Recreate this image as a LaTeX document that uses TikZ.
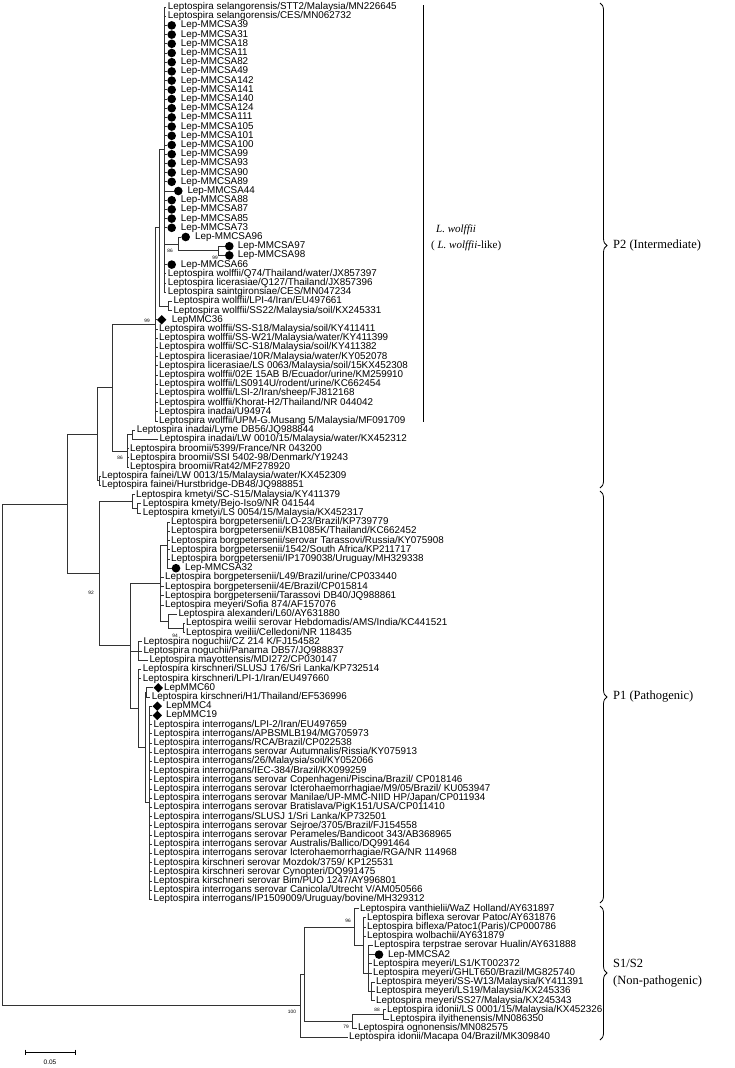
\documentclass[tikz,border=0pt]{standalone}
\usepackage{fontspec}
\setmainfont{Liberation Serif}
\newfontfamily\arialf{Liberation Sans}
\usetikzlibrary{shapes.geometric,decorations.pathreplacing}
\begin{document}
\begin{tikzpicture}[x=1pt,y=-1pt,
  leaf/.style={anchor=west,inner xsep=1.5pt,inner ysep=0pt,font=\arialf\fontsize{9.85}{10}\selectfont},
  br/.style={draw=black!80,line width=0.7pt},
  dot/.style={circle,fill=black,minimum size=8.6pt,inner sep=0pt},
  dia/.style={diamond,fill=black,minimum size=9.5pt,inner sep=0pt},
  bs/.style={font=\arialf\fontsize{4.8}{5}\selectfont,inner sep=0pt},
  grp/.style={font=\fontsize{12.5}{14}\selectfont,anchor=west,inner sep=0pt},
  brc/.style={draw=black,line width=0.8pt,decorate,decoration={brace,amplitude=7pt}}]
\useasboundingbox (0,0) rectangle (734,1068);
% ---------- P2 leaves ----------
\node[leaf] (l1) at (166.2,7.0) {Leptospira selangorensis/STT2/Malaysia/MN226645};
\node[leaf] (l2) at (166.2,16.2) {Leptospira selangorensis/CES/MN062732};
\foreach \i/\y/\t in {3/25.4/39,4/34.6/31,5/43.8/18,6/53.0/11,7/62.2/82,8/71.4/49,9/80.6/142,10/89.8/141,11/99.0/140,12/108.2/124,13/117.4/111,14/126.6/105,15/135.8/101,16/145.0/100,17/154.2/99,18/163.4/93,19/172.6/90,20/181.8/89,22/200.2/88,23/209.4/87,24/218.6/85,25/227.8/73,29/264.6/66}{
  \node[dot] (m\i) at (171.7,\y) {};
  \node[leaf] (l\i) at (179.2,\y) {Lep-MMCSA\t};
}
\node[dot] (m21) at (178.3,191.0) {};
\node[leaf] (l21) at (185.8,191.0) {Lep-MMCSA44};
\node[dot] (m26) at (185.7,237.0) {};
\node[leaf] (l26) at (193.5,237.0) {Lep-MMCSA96};
\node[dot] (m27) at (229.3,246.2) {};
\node[leaf] (l27) at (236.2,246.2) {Lep-MMCSA97};
\node[dot] (m28) at (229.3,255.4) {};
\node[leaf] (l28) at (236.2,255.4) {Lep-MMCSA98};
\node[leaf] (l30) at (166.2,273.8) {Leptospira wolffii/Q74/Thailand/water/JX857397};
\node[leaf] (l31) at (166.2,283.0) {Leptospira licerasiae/Q127/Thailand/JX857396};
\node[leaf] (l32) at (166.2,292.2) {Leptospira saintgironsiae/CES/MN047234};
\node[leaf] (l33) at (171.8,301.4) {Leptospira wolffii/LPI-4/Iran/EU497661};
\node[leaf] (l34) at (171.8,310.6) {Leptospira wolffii/SS22/Malaysia/soil/KX245331};
\node[dia] (m35) at (161.7,319.8) {};
\node[leaf] (l35) at (170.2,319.8) {LepMMC36};
\node[leaf] (l36) at (157.5,329.0) {Leptospira wolffii/SS-S18/Malaysia/soil/KY411411};
\node[leaf] (l37) at (157.5,338.2) {Leptospira wolffii/SS-W21/Malaysia/water/KY411399};
\node[leaf] (l38) at (157.5,347.4) {Leptospira wolffii/SC-S18/Malaysia/soil/KY411382};
\node[leaf] (l39) at (157.5,356.6) {Leptospira licerasiae/10R/Malaysia/water/KY052078};
\node[leaf] (l40) at (157.5,365.8) {Leptospira licerasiae/LS 0063/Malaysia/soil/15KX452308};
\node[leaf] (l41) at (157.5,375.0) {Leptospira wolffii/02E 15AB B/Ecuador/urine/KM259910};
\node[leaf] (l42) at (157.5,384.2) {Leptospira wolffii/LS0914U/rodent/urine/KC662454};
\node[leaf] (l43) at (157.5,393.4) {Leptospira wolffii/LSI-2/Iran/sheep/FJ812168};
\node[leaf] (l44) at (157.5,402.6) {Leptospira wolffii/Khorat-H2/Thailand/NR 044042};
\node[leaf] (l45) at (157.5,411.8) {Leptospira inadai/U94974};
\node[leaf] (l46) at (157.5,421.0) {Leptospira wolffii/UPM-G.Musang 5/Malaysia/MF091709};
\node[leaf] (l47) at (135.2,430.2) {Leptospira inadai/Lyme DB56/JQ988844};
\node[leaf] (l48) at (157.8,439.4) {Leptospira inadai/LW 0010/15/Malaysia/water/KX452312};
\node[leaf] (l49) at (128.5,448.6) {Leptospira broomii/5399/France/NR 043200};
\node[leaf] (l50) at (128.5,457.8) {Leptospira broomii/SSI 5402-98/Denmark/Y19243};
\node[leaf] (l51) at (128.5,467.0) {Leptospira broomii/Rat42/MF278920};
\node[leaf] (l52) at (100.2,476.2) {Leptospira fainei/LW 0013/15/Malaysia/water/KX452309};
\node[leaf] (l53) at (100.2,485.4) {Leptospira fainei/Hurstbridge-DB48/JQ988851};
% ---------- P1 leaves ----------
\node[leaf] (l54) at (134.5,494.6) {Leptospira kmetyi/SC-S15/Malaysia/KY411379};
\node[leaf] (l55) at (141.2,503.8) {Leptospira kmety/Bejo-Iso9/NR 041544};
\node[leaf] (l56) at (141.2,513.0) {Leptospira kmetyi/LS 0054/15/Malaysia/KX452317};
\node[leaf] (l57) at (169.5,522.2) {Leptospira borgpetersenii/LO-23/Brazil/KP739779};
\node[leaf] (l58) at (169.5,531.4) {Leptospira borgpetersenii/KB1085K/Thailand/KC662452};
\node[leaf] (l59) at (169.5,540.6) {Leptospira borgpetersenii/serovar Tarassovi/Russia/KY075908};
\node[leaf] (l60) at (169.5,549.8) {Leptospira borgpetersenii/1542/South Africa/KP211717};
\node[leaf] (l61) at (169.5,559.0) {Leptospira borgpetersenii/IP1709038/Uruguay/MH329338};
\node[dot] (m62) at (176.0,568.2) {};
\node[leaf] (l62) at (183.5,568.2) {Lep-MMCSA32};
\node[leaf] (l63) at (163.5,577.4) {Leptospira borgpetersenii/L49/Brazil/urine/CP033440};
\node[leaf] (l64) at (163.5,586.6) {Leptospira borgpetersenii/4E/Brazil/CP015814};
\node[leaf] (l65) at (163.5,595.8) {Leptospira borgpetersenii/Tarassovi DB40/JQ988861};
\node[leaf] (l66) at (163.5,605.0) {Leptospira meyeri/Sofia 874/AF157076};
\node[leaf] (l67) at (176.8,614.2) {Leptospira alexanderi/L60/AY631880};
\node[leaf] (l68) at (184.5,623.4) {Leptospira weilii serovar Hebdomadis/AMS/India/KC441521};
\node[leaf] (l69) at (184.5,632.6) {Leptospira weilii/Celledoni/NR 118435};
\node[leaf] (l70) at (141.8,641.8) {Leptospira noguchii/CZ 214 K/FJ154582};
\node[leaf] (l71) at (141.8,651.0) {Leptospira noguchii/Panama DB57/JQ988837};
\node[leaf] (l72) at (147.8,660.2) {Leptospira mayottensis/MDI272/CP030147};
\node[leaf] (l73) at (141.2,669.4) {Leptospira kirschneri/SLUSJ 176/Sri Lanka/KP732514};
\node[leaf] (l74) at (141.2,678.6) {Leptospira kirschneri/LPI-1/Iran/EU497660};
\node[dia] (m75) at (158.3,687.8) {};
\node[leaf] (l75) at (162.5,687.8) {LepMMC60};
\node[leaf] (l76) at (150.2,697.0) {Leptospira kirschneri/H1/Thailand/EF536996};
\node[dia] (m77) at (157.3,706.2) {};
\node[leaf] (l77) at (164.5,706.2) {LepMMC4};
\node[dia] (m78) at (157.3,715.4) {};
\node[leaf] (l78) at (164.5,715.4) {LepMMC19};
\node[leaf] (l79) at (152.0,724.6) {Leptospira interrogans/LPI-2/Iran/EU497659};
\node[leaf] (l80) at (152.0,733.8) {Leptospira interrogans/APBSMLB194/MG705973};
\node[leaf] (l81) at (152.0,743.0) {Leptospira interrogans/RCA/Brazil/CP022538};
\node[leaf] (l82) at (152.0,752.2) {Leptospira interrogans serovar Autumnalis/Rissia/KY075913};
\node[leaf] (l83) at (152.0,761.4) {Leptospira interrogans/26/Malaysia/soil/KY052066};
\node[leaf] (l84) at (152.0,770.6) {Leptospira interrogans/IEC-384/Brazil/KX099259};
\node[leaf] (l85) at (152.0,779.8) {Leptospira interrogans serovar Copenhageni/Piscina/Brazil/ CP018146};
\node[leaf] (l86) at (152.0,789.0) {Leptospira interrogans serovar Icterohaemorrhagiae/M9/05/Brazil/ KU053947};
\node[leaf] (l87) at (152.0,798.2) {Leptospira interrogans serovar Manilae/UP-MMC-NIID HP/Japan/CP011934};
\node[leaf] (l88) at (152.0,807.4) {Leptospira interrogans serovar Bratislava/PigK151/USA/CP011410};
\node[leaf] (l89) at (152.0,816.6) {Leptospira interrogans/SLUSJ 1/Sri Lanka/KP732501};
\node[leaf] (l90) at (152.0,825.8) {Leptospira interrogans serovar Sejroe/3705/Brazil/FJ154558};
\node[leaf] (l91) at (152.0,835.0) {Leptospira interrogans serovar Perameles/Bandicoot 343/AB368965};
\node[leaf] (l92) at (152.0,844.2) {Leptospira interrogans serovar Australis/Ballico/DQ991464};
\node[leaf] (l93) at (152.0,853.4) {Leptospira interrogans serovar Icterohaemorrhagiae/RGA/NR 114968};
\node[leaf] (l94) at (152.0,862.6) {Leptospira kirschneri serovar Mozdok/3759/ KP125531};
\node[leaf] (l95) at (152.0,871.8) {Leptospira kirschneri serovar Cynopteri/DQ991475};
\node[leaf] (l96) at (152.0,881.0) {Leptospira kirschneri serovar Bim/PUO 1247/AY996801};
\node[leaf] (l97) at (152.0,890.2) {Leptospira interrogans serovar Canicola/Utrecht V/AM050566};
\node[leaf] (l98) at (152.0,899.4) {Leptospira interrogans/IP1509009/Uruguay/bovine/MH329312};
% ---------- S1/S2 leaves ----------
\node[leaf] (l99) at (358.5,908.6) {Leptospira vanthielii/WaZ Holland/AY631897};
\node[leaf] (l100) at (365.5,917.8) {Leptospira biflexa serovar Patoc/AY631876};
\node[leaf] (l101) at (365.5,927.0) {Leptospira biflexa/Patoc1(Paris)/CP000786};
\node[leaf] (l102) at (365.5,936.2) {Leptospira wolbachii/AY631879};
\node[leaf] (l103) at (372.5,945.4) {Leptospira terpstrae serovar Hualin/AY631888};
\node[dot] (m104) at (379,954.6) {};
\node[leaf] (l104) at (386.5,954.6) {Lep-MMCSA2};
\node[leaf] (l105) at (371.5,963.8) {Leptospira meyeri/LS1/KT002372};
\node[leaf] (l106) at (371.5,973.0) {Leptospira meyeri/GHLT650/Brazil/MG825740};
\node[leaf] (l107) at (374.5,982.2) {Leptospira meyeri/SS-W13/Malaysia/KY411391};
\node[leaf] (l108) at (374.5,991.4) {Leptospira meyeri/LS19/Malaysia/KX245336};
\node[leaf] (l109) at (374.5,1000.6) {Leptospira meyeri/SS27/Malaysia/KX245343};
\node[leaf] (l110) at (385.5,1009.8) {Leptospira idonii/LS 0001/15/Malaysia/KX452326};
\node[leaf] (l111) at (388.5,1019.0) {Leptospira ilyithenensis/MN086350};
\node[leaf] (l112) at (356.5,1028.2) {Leptospira ognonensis/MN082575};
\node[leaf] (l113) at (347.5,1037.4) {Leptospira idonii/Macapa 04/Brazil/MK309840};
% ---------- internal nodes ----------
\coordinate (A) at (164,149.6);
\coordinate (N97) at (218.3,250.8);
\coordinate (N96) at (178,243.9);
\coordinate (N34) at (168.5,306.0);
\coordinate (B) at (159,227.8);
\coordinate (D) at (155,324.4);
\coordinate (G) at (132,434.8);
\coordinate (F) at (127,450.9);
\coordinate (E) at (112,387.7);
\coordinate (Fa) at (99.5,480.8);
\coordinate (P2n) at (97.5,434.2);
\coordinate (Kp) at (137,508.4);
\coordinate (K) at (132,501.5);
\coordinate (LO) at (167,545.2);
\coordinate (WE) at (183,628.0);
\coordinate (AW) at (168,621.1);
\coordinate (BG) at (160,583.2);
\coordinate (NG) at (138,651.0);
\coordinate (MH) at (146,692.4);
\coordinate (I) at (149.3,802.8);
\coordinate (KI) at (145,747.6);
\coordinate (KK) at (138,708.5);
\coordinate (R) at (130,645.8);
\coordinate (P1n) at (99,573.7);
\coordinate (PP) at (67,504.0);
\coordinate (MS) at (371,991.4);
\coordinate (MY) at (368,973.0);
\coordinate (BF) at (363,945.4);
\coordinate (V) at (354,927.0);
\coordinate (IP) at (383,1014.4);
\coordinate (IDg) at (352,1021.3);
\coordinate (SA) at (304,974.2);
\coordinate (S) at (300,1005.8);
\coordinate (RT) at (2,754.9);
% ---------- branches ----------
\foreach \c in {l1,l2,m3,m4,m5,m6,m7,m8,m9,m10,m11,m12,m13,m14,m15,m16,m17,m18,m19,m20,m21,m22,m23,m24,m25,m29,l30,l31,l32}{\draw[br] (A) |- (\c.west);}
\draw[br] (A) |- (N96);
\draw[br] (N96) |- (m26.west); \draw[br] (N96) |- (N97);
\draw[br] (N97) |- (m27.west); \draw[br] (N97) |- (m28.west);
\draw[br] (N34) |- (l33.west); \draw[br] (N34) |- (l34.west);
\draw[br] (B) |- (A); \draw[br] (B) |- (N34);
\draw[br] (D) |- (B);
\foreach \c in {m35,l36,l37,l38,l39,l40,l41,l42,l43,l44,l45,l46}{\draw[br] (D) |- (\c.west);}
\draw[br] (G) |- (l47.west); \draw[br] (G) |- (l48.west);
\draw[br] (F) |- (G);
\foreach \c in {l49,l50,l51}{\draw[br] (F) |- (\c.west);}
\draw[br] (E) |- (D); \draw[br] (E) |- (F);
\draw[br] (Fa) |- (l52.west); \draw[br] (Fa) |- (l53.west);
\draw[br] (P2n) |- (E); \draw[br] (P2n) |- (Fa);
\draw[br] (Kp) |- (l55.west); \draw[br] (Kp) |- (l56.west);
\draw[br] (K) |- (l54.west); \draw[br] (K) |- (Kp);
\foreach \c in {l57,l58,l59,l60,l61,m62}{\draw[br] (LO) |- (\c.west);}
\draw[br] (WE) |- (l68.west); \draw[br] (WE) |- (l69.west);
\draw[br] (AW) |- (l67.west); \draw[br] (AW) |- (WE);
\draw[br] (BG) |- (LO); \draw[br] (BG) |- (AW);
\foreach \c in {l63,l64,l65,l66}{\draw[br] (BG) |- (\c.west);}
\foreach \c in {l70,l71,l72}{\draw[br] (NG) |- (\c.west);}
\draw[br] (MH) |- (m75.west); \draw[br] (MH) |- (l76.west);
\foreach \c in {m77,m78,l79,l80,l81,l82,l83,l84,l85,l86,l87,l88,l89,l90,l91,l92,l93,l94,l95,l96,l97,l98}{\draw[br] (I) |- (\c.west);}
\draw[br] (KI) |- (MH); \draw[br] (KI) |- (I);
\draw[br] (KK) |- (l73.west); \draw[br] (KK) |- (l74.west); \draw[br] (KK) |- (KI);
\draw[br] (R) |- (BG); \draw[br] (R) |- (NG); \draw[br] (R) |- (KK);
\draw[br] (P1n) |- (K); \draw[br] (P1n) |- (R);
\draw[br] (PP) |- (P2n); \draw[br] (PP) |- (P1n);
\foreach \c in {l107,l108,l109}{\draw[br] (MS) |- (\c.west);}
\foreach \c in {l103,m104,l105,l106}{\draw[br] (MY) |- (\c.west);}
\draw[br] (MY) |- (MS);
\foreach \c in {l100,l101,l102}{\draw[br] (BF) |- (\c.west);}
\draw[br] (BF) |- (MY);
\draw[br] (V) |- (l99.west); \draw[br] (V) |- (BF);
\draw[br] (IP) |- (l110.west); \draw[br] (IP) |- (l111.west);
\draw[br] (IDg) |- (IP); \draw[br] (IDg) |- (l112.west);
\draw[br] (SA) |- (V); \draw[br] (SA) |- (IDg);
\draw[br] (S) |- (SA); \draw[br] (S) |- (l113.west);
\draw[br] (RT) |- (PP); \draw[br] (RT) |- (S);
% ---------- bootstrap values ----------
\node[bs] (b1) at (170,251) {86};
\node[bs] (b2) at (215,258) {99};
\node[bs] (b3) at (147,321) {99};
\node[bs] (b4) at (120,458) {86};
\node[bs] (b5) at (91,593) {92};
\node[bs] (b6) at (175,636) {94};
\node[bs] (b7) at (348,921) {96};
\node[bs] (b8) at (377,1010) {88};
\node[bs] (b9) at (346,1027) {79};
\node[bs] (b10) at (292,1012) {100};
% ---------- group labels ----------
\coordinate (wt) at (423,5);
\coordinate (wb) at (423,422);
\draw[line width=0.6pt] (wt) -- (wb);
\node[grp,font=\fontsize{11}{13}\selectfont] (wl1) at (436,230) {\textit{L. wolffii}};
\node[grp,font=\fontsize{11}{13}\selectfont] (wl2) at (431,246) {( \textit{L. wolffii}-like)};
\coordinate (p2t) at (600,3);
\coordinate (p2b) at (600,488);
\draw[brc] (p2t) -- (p2b);
\node[grp] (p2) at (613,245.5) {P2 (Intermediate)};
\coordinate (p1t) at (600,491);
\coordinate (p1b) at (600,903);
\draw[brc] (p1t) -- (p1b);
\node[grp] (p1) at (613,697) {P1 (Pathogenic)};
\coordinate (s1t) at (600,906);
\coordinate (s1b) at (600,1040);
\draw[brc] (s1t) -- (s1b);
\node[grp] (s1) at (613,963) {S1/S2};
\node[grp] (s2) at (613,982) {(Non-pathogenic)};
% ---------- scale bar ----------
\coordinate (sb1) at (25,1052);
\coordinate (sb2) at (75,1052);
\draw[line width=0.7pt] (sb1) -- (sb2);
\draw[line width=0.7pt] (sb1) ++(0,-2.5) -- ++(0,5);
\draw[line width=0.7pt] (sb2) ++(0,-2.5) -- ++(0,5);
\node[font=\arialf\fontsize{6.5}{7}\selectfont] (sbl) at (50,1062) {0.05};
\end{tikzpicture}
\end{document}
